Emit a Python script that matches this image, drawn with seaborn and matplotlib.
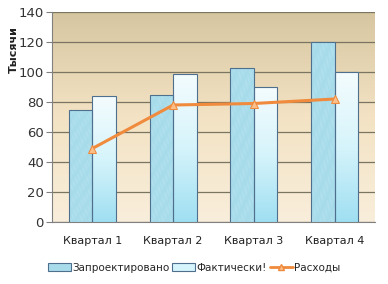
import numpy as np
import pandas as pd
import matplotlib
matplotlib.use("Agg")
import matplotlib.pyplot as plt
import seaborn as sns
from matplotlib.colors import LinearSegmentedColormap

categories = ["Квартал 1", "Квартал 2", "Квартал 3", "Квартал 4"]
planned = [75, 85, 103, 120]
actual = [84, 99, 90, 100]
expenses = [49, 78, 79, 82]
series_names = ["Запроектировано", "Фактически!", "Расходы"]
y_ticks = [0, 20, 40, 60, 80, 100, 120, 140]

sns.set_style("white")
plt.rcParams['font.family'] = ['DejaVu Sans']

df = pd.DataFrame({
    "cat": categories * 2,
    "val": planned + actual,
    "series": [series_names[0]] * 4 + [series_names[1]] * 4,
})

fig = plt.figure(figsize=(3.88, 2.84), dpi=100)
ax = fig.add_axes([52/388, 62/284, 323/388, 210/284])

sns.barplot(data=df, x="cat", y="val", hue="series", ax=ax, width=0.58,
            palette=["#a9dcea", "#e6f8fd"], edgecolor="#4f6f8f", linewidth=0.8,
            legend=False, zorder=3, saturation=1)

ax.set_xlim(-0.5, 3.5)
ax.set_ylim(0, 140)

# background gradient
bg = LinearSegmentedColormap.from_list("bg", ["#f9eedb", "#f3e3c4", "#d6c6a0"])
grad = np.linspace(0, 1, 256).reshape(-1, 1)
ax.imshow(grad, aspect="auto", cmap=bg, extent=[-0.5, 3.5, 0, 140],
          origin="lower", zorder=0)

# bar gradients
cm_p = LinearSegmentedColormap.from_list("p", ["#b8e6f2", "#a6dbea", "#bfe6f1"])
cm_a = LinearSegmentedColormap.from_list("a", ["#9fdff2", "#d6f4fb", "#f4fcfe"])
n = len(categories)
for i, patch in enumerate(ax.patches[:2 * n]):
    x0, y0 = patch.get_x(), patch.get_y()
    w, h = patch.get_width(), patch.get_height()
    if i < n:
        xx = np.linspace(0, 1, 64)
        yy = np.linspace(0, 1, 128)
        X, Y = np.meshgrid(xx, yy)
        img = 0.5 + 0.25 * np.sin(X * 19 + Y * 40) * np.cos(Y * 23 - X * 7)
        im = ax.imshow(img, aspect="auto", cmap=cm_p, extent=[x0, x0 + w, y0, y0 + h],
                       origin="lower", zorder=3.5, vmin=0, vmax=1)
    else:
        im = ax.imshow(grad, aspect="auto", cmap=cm_a, extent=[x0, x0 + w, y0, y0 + h],
                       origin="lower", zorder=3.5)
    im.set_clip_path(patch)
    patch.set_facecolor("none")
    patch.set_zorder(4)

sns.lineplot(x=categories, y=expenses, ax=ax, color="#f08a3c", linewidth=2.2,
             marker="^", markersize=6, markerfacecolor="#fbc08a",
             markeredgecolor="#f08a3c", zorder=6, sort=False)

ax.set_yticks(y_ticks)
ax.yaxis.grid(True, color="#7a7560", linewidth=0.9, zorder=1)
ax.set_axisbelow(True)
for s in ["top", "right"]:
    ax.spines[s].set_visible(False)
ax.spines["left"].set_color("#808080")
ax.spines["bottom"].set_color("#808080")
ax.tick_params(axis="y", length=4, color="#808080", labelsize=9.5, labelcolor="#333333", pad=2, left=True)
ax.tick_params(axis="x", length=0, labelsize=8, labelcolor="#222222", pad=10)
ax.set_xlabel("")
ax.set_ylabel("")
fig.text(14/388, 1 - 50/284, "Тысячи", rotation=90, ha="center", va="center",
         fontsize=8, fontweight="bold", color="#222222")

from matplotlib.patches import Patch
from matplotlib.lines import Line2D
handles = [
    Patch(facecolor="#a9dcea", edgecolor="#4f6f8f", linewidth=0.8),
    Patch(facecolor="#d6f4fb", edgecolor="#4f6f8f", linewidth=0.8),
    Line2D([0], [0], color="#f08a3c", linewidth=2, marker="^", markersize=5,
           markerfacecolor="#fbc08a", markeredgecolor="#f08a3c"),
]
fig.legend(handles, series_names, loc="center", bbox_to_anchor=(0.5, 1 - 268/284),
           ncol=3, frameon=False, fontsize=7.5, handlelength=2.2, handletextpad=0.1,
           columnspacing=0.3, handleheight=0.8)

fig.savefig("out.png", dpi=100)
